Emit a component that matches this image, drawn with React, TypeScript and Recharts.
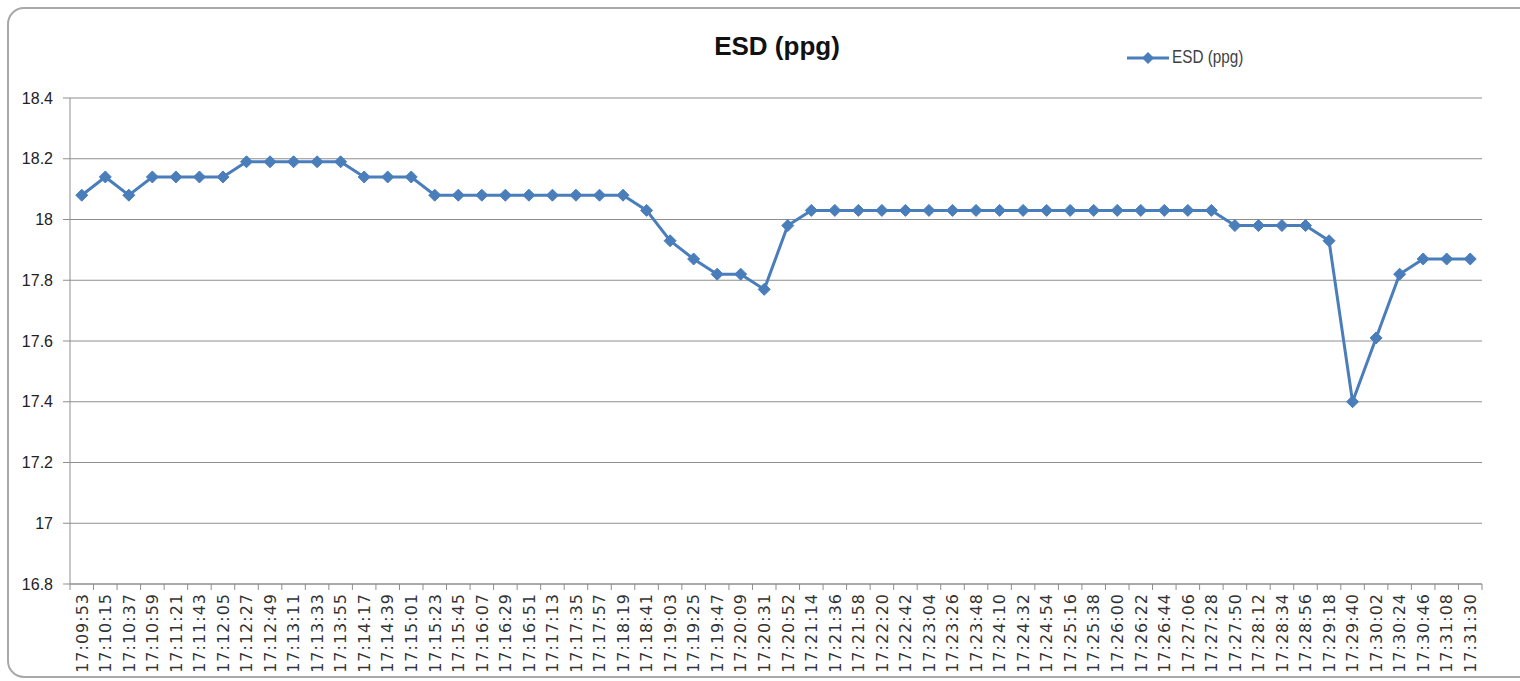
import React from 'react';
import { LineChart, Line, XAxis, YAxis, CartesianGrid, Legend } from 'recharts';

const times = [
  '17:09:53', '17:10:15', '17:10:37', '17:10:59', '17:11:21', '17:11:43', '17:12:05', '17:12:27',
  '17:12:49', '17:13:11', '17:13:33', '17:13:55', '17:14:17', '17:14:39', '17:15:01', '17:15:23',
  '17:15:45', '17:16:07', '17:16:29', '17:16:51', '17:17:13', '17:17:35', '17:17:57', '17:18:19',
  '17:18:41', '17:19:03', '17:19:25', '17:19:47', '17:20:09', '17:20:31', '17:20:52', '17:21:14',
  '17:21:36', '17:21:58', '17:22:20', '17:22:42', '17:23:04', '17:23:26', '17:23:48', '17:24:10',
  '17:24:32', '17:24:54', '17:25:16', '17:25:38', '17:26:00', '17:26:22', '17:26:44', '17:27:06',
  '17:27:28', '17:27:50', '17:28:12', '17:28:34', '17:28:56', '17:29:18', '17:29:40', '17:30:02',
  '17:30:24', '17:30:46', '17:31:08', '17:31:30',
];

const esdValues = [
  18.08, 18.14, 18.08, 18.14, 18.14, 18.14, 18.14, 18.19,
  18.19, 18.19, 18.19, 18.19, 18.14, 18.14, 18.14, 18.08,
  18.08, 18.08, 18.08, 18.08, 18.08, 18.08, 18.08, 18.08,
  18.03, 17.93, 17.87, 17.82, 17.82, 17.77, 17.98, 18.03,
  18.03, 18.03, 18.03, 18.03, 18.03, 18.03, 18.03, 18.03,
  18.03, 18.03, 18.03, 18.03, 18.03, 18.03, 18.03, 18.03,
  18.03, 17.98, 17.98, 17.98, 17.98, 17.93, 17.40, 17.61,
  17.82, 17.87, 17.87, 17.87,
];

const yTicks = [16.8, 17, 17.2, 17.4, 17.6, 17.8, 18, 18.2, 18.4];

const SERIES_NAME = 'ESD (ppg)';
const BLUE = '#4a7ebb';
const GRID = '#8e8e8e';

const data = times.map((t, i) => ({ time: t, esd: esdValues[i] }));

// diamond marker drawn around the point the library computed
const Diamond = (props: any) => {
  const { cx, cy } = props;
  if (cx == null || cy == null) return null;
  const r = 6;
  return (
    <polygon
      points={`${cx},${cy - r} ${cx + r},${cy} ${cx},${cy + r} ${cx - r},${cy}`}
      fill={BLUE}
      stroke={BLUE}
      strokeWidth={1}
    />
  );
};

// rotated time label + excel style tick marks between categories
const TimeTick = (props: any) => {
  const { x, y, payload, index } = props;
  const half = payload && payload.offset ? payload.offset : 0;
  const axisY = y - 9;
  return (
    <g>
      <line x1={x - half} y1={axisY} x2={x - half} y2={axisY + 6} stroke={GRID} />
      {index === times.length - 1 && (
        <line x1={x + half} y1={axisY} x2={x + half} y2={axisY + 6} stroke={GRID} />
      )}
      <text
        x={x}
        y={y}
        dy={5.8}
        transform={`rotate(-90, ${x}, ${y})`}
        textAnchor="end"
        fill="#333"
        fontSize={16}
        letterSpacing={1}
        fontFamily="DejaVu Sans, sans-serif"
      >
        {payload.value}
      </text>
    </g>
  );
};

const LegendContent = () => (
  <div style={{ display: 'flex', alignItems: 'center' }}>
    <svg width={44} height={14}>
      <line x1={0} y1={7} x2={42} y2={7} stroke={BLUE} strokeWidth={3} />
      <polygon points="21,1 27,7 21,13 15,7" fill={BLUE} />
    </svg>
    <span
      style={{
        fontFamily: 'Liberation Sans, Arial, sans-serif',
        fontSize: 18,
        color: '#404040',
        display: 'inline-block',
        transform: 'scaleX(0.85)',
        transformOrigin: 'left center',
        marginLeft: 1,
        whiteSpace: 'nowrap',
      }}
    >
      {SERIES_NAME}
    </span>
  </div>
);

export default function App() {
  return (
    <div style={{ position: 'absolute', left: 0, top: 0, width: 1520, height: 681, background: '#fff', overflow: 'hidden' }}>
      <div
        style={{
          position: 'absolute',
          left: 7,
          top: 7,
          width: 1540,
          height: 667,
          border: '2px solid #a8a8a8',
          borderRadius: 17,
          background: '#fff',
        }}
      />
      <div
        style={{
          position: 'absolute',
          left: 777,
          top: 31,
          transform: 'translateX(-50%)',
          fontFamily: 'Liberation Sans, Arial, sans-serif',
          fontWeight: 'bold',
          fontSize: 26,
          color: '#111',
          whiteSpace: 'nowrap',
        }}
      >
        {SERIES_NAME}
      </div>
      <div style={{ position: 'absolute', left: 0, top: 0 }}>
        <LineChart width={1520} height={681} data={data} margin={{ top: 98, right: 38, left: 8, bottom: 7 }}>
          <CartesianGrid vertical={false} stroke={GRID} strokeWidth={1} />
          <XAxis
            dataKey="time"
            scale="band"
            interval={0}
            height={90}
            tickSize={6}
            tickMargin={3}
            tickLine={false}
            axisLine={{ stroke: GRID }}
            tick={<TimeTick />}
          />
          <YAxis
            domain={[16.8, 18.4]}
            ticks={yTicks}
            width={62}
            tickSize={7}
            tickMargin={10}
            axisLine={{ stroke: GRID }}
            tickLine={{ stroke: GRID }}
            tick={{ fill: '#222', fontSize: 16, fontFamily: 'Liberation Sans, Arial, sans-serif' }}
            tickFormatter={(v: number) => String(v)}
            allowDataOverflow
          />
          <Legend
            layout="vertical"
            align="center"
            verticalAlign="middle"
            content={<LegendContent />}
            wrapperStyle={{ position: 'absolute', left: 1127, top: 47, width: 'auto', height: 'auto' }}
          />
          <Line
            type="linear"
            dataKey="esd"
            name={SERIES_NAME}
            stroke={BLUE}
            strokeWidth={3}
            dot={<Diamond />}
            activeDot={false}
            isAnimationActive={false}
          />
        </LineChart>
      </div>
    </div>
  );
}
